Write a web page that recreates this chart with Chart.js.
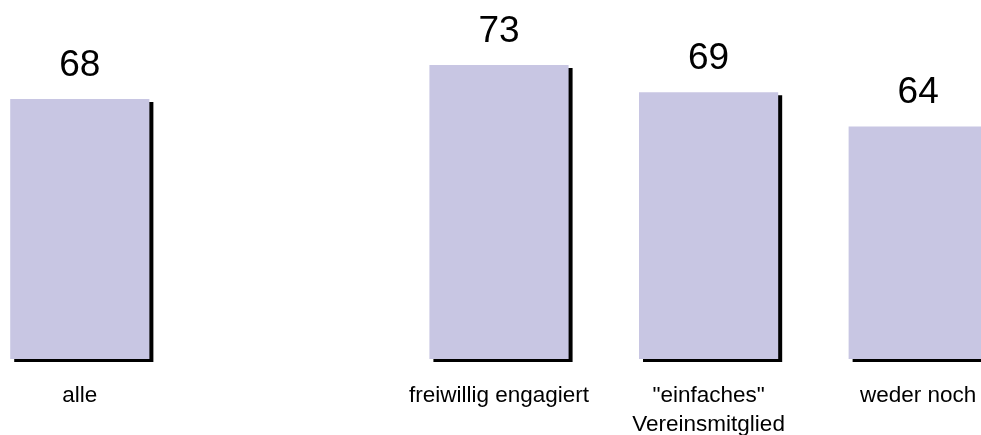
<!DOCTYPE html>
<html><head><meta charset="utf-8">
<script src="https://cdn.jsdelivr.net/npm/chart.js@4.4.1/dist/chart.umd.min.js"></script>
<style>
html,body{margin:0;padding:0;background:#fff;overflow:hidden;width:981px;height:435px;}
#wrap{position:absolute;left:-25px;top:0;width:1048px;height:435px;}
canvas{display:block;}
</style></head><body>
<div id="wrap"><canvas id="c" width="1048" height="435" style="width:1048px;height:435px"></canvas></div>
<script>
const categories = ['alle', '', 'freiwillig engagiert', ['"einfaches"', 'Vereinsmitglied'], 'weder noch'];
const values = [68, null, 73, 69, 64];
const yMin = 30;
const yMax = 80;

const FONT = '"Liberation Sans", Arial, Helvetica, sans-serif';

const shadowPlugin = {
  id: 'barShadow',
  beforeDatasetDraw(chart) {
    const ctx = chart.ctx;
    ctx.save();
    ctx.shadowColor = '#000000';
    ctx.shadowBlur = 0;
    ctx.shadowOffsetX = 4;
    ctx.shadowOffsetY = 3;
  },
  afterDatasetDraw(chart) {
    chart.ctx.restore();
  }
};

const valueLabels = {
  id: 'valueLabels',
  afterDatasetsDraw(chart) {
    const ctx = chart.ctx;
    const meta = chart.getDatasetMeta(0);
    ctx.save();
    ctx.font = '37px ' + FONT;
    ctx.fillStyle = '#000';
    ctx.textAlign = 'center';
    ctx.textBaseline = 'alphabetic';
    meta.data.forEach((bar, i) => {
      const v = values[i];
      if (v === null || v === undefined) return;
      ctx.fillText(String(v), bar.x, bar.y - 23);
    });
    ctx.restore();
  }
};

new Chart(document.getElementById('c'), {
  type: 'bar',
  data: {
    labels: categories,
    datasets: [{
      data: values,
      base: yMin,
      backgroundColor: '#C8C6E3',
      borderWidth: 0,
      categoryPercentage: 1.0,
      barPercentage: 0.664,
      clip: false
    }]
  },
  options: {
    responsive: false,
    animation: false,
    devicePixelRatio: 1,
    layout: { padding: { top: 17, left: 0, right: 0, bottom: 0 } },
    plugins: { legend: { display: false }, tooltip: { enabled: false } },
    scales: {
      y: { display: false, min: yMin, max: yMax },
      x: {
        grid: { display: false, drawTicks: false },
        border: { display: false },
        ticks: {
          color: '#000',
          padding: 22,
          maxRotation: 0,
          autoSkip: false,
          font: { family: FONT, size: 22.5, lineHeight: 1.3 }
        },
        afterFit(axis) { axis.height = 76; }
      }
    }
  },
  plugins: [shadowPlugin, valueLabels]
});
</script>
</body></html>
